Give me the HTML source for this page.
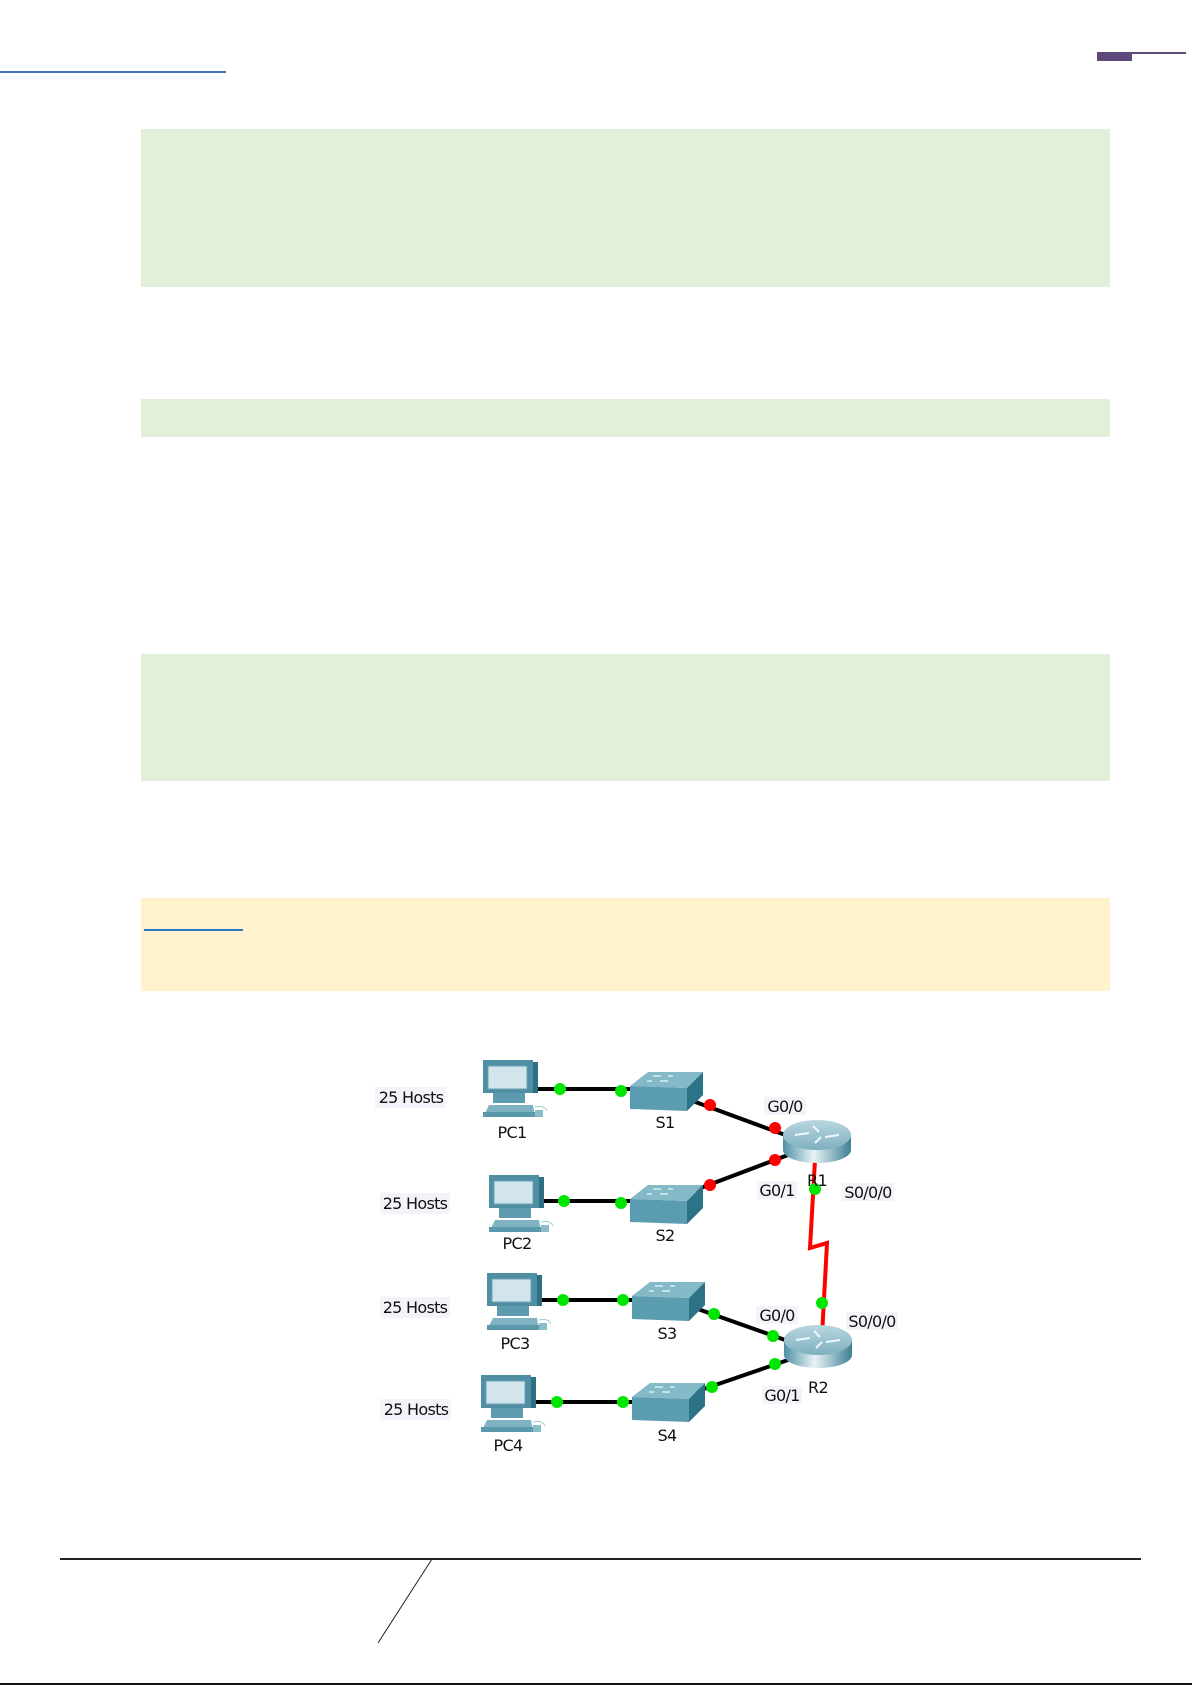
<!DOCTYPE html>
<html><head><meta charset="utf-8"><style>
html,body{margin:0;padding:0;background:#fff;}
body{width:1192px;height:1685px;position:relative;overflow:hidden;font-family:"Liberation Sans",sans-serif;}
.b{position:absolute;}
</style></head><body>
<div class="b" style="left:0;top:71px;width:226px;height:2px;background:#4472c4"></div>
<div class="b" style="left:1097px;top:52px;width:35px;height:9px;background:#5f497a"></div>
<div class="b" style="left:1132px;top:52px;width:54px;height:2px;background:#5f497a"></div>
<div class="b" style="left:141px;top:129px;width:969px;height:158px;background:#e2efd9"></div>
<div class="b" style="left:141px;top:399px;width:969px;height:38px;background:#e2efd9"></div>
<div class="b" style="left:141px;top:654px;width:969px;height:127px;background:#e2efd9"></div>
<div class="b" style="left:141px;top:898px;width:969px;height:93px;background:#fff2cc"></div>
<div class="b" style="left:144px;top:929px;width:99px;height:2px;background:#2e75c6"></div>
<svg class="b" style="left:0;top:0" width="1192" height="1685" viewBox="0 0 1192 1685">
<defs>
<linearGradient id="rg" x1="0" x2="1" y1="0" y2="0">
<stop offset="0" stop-color="#4f8fa3"/><stop offset="0.45" stop-color="#e8f3f6"/><stop offset="1" stop-color="#3f7f93"/></linearGradient>
<linearGradient id="rt" x1="0" x2="0" y1="0" y2="1">
<stop offset="0" stop-color="#b9d7e0"/><stop offset="1" stop-color="#7fb0bf"/></linearGradient>
<g id="pc">
<rect x="0" y="0" width="50" height="33" fill="#4f8ea3"/>
<rect x="50" y="2" width="5" height="31" fill="#2f6f84"/>
<rect x="5" y="6" width="39" height="23" fill="#d3e5ec" stroke="#6aa3b5"/>
<rect x="10" y="33" width="32" height="10" fill="#5f9bb0"/>
<polygon points="0,57 6,45 50,45 52,57" fill="#7fb3c3"/>
<rect x="0" y="52" width="52" height="5" fill="#5a98ac"/>
<path d="M52 47 q10 -2 12 4" stroke="#9cc" fill="none"/>
<rect x="52" y="50" width="8" height="7" fill="#8bbccb"/>
</g>
<g id="sw">
<polygon points="0,14 18,0 73,0 57,16" fill="#84b9c8"/>
<polygon points="0,14 57,16 57,39 0,37" fill="#5b9db0"/>
<polygon points="57,16 73,0 73,23 57,39" fill="#2d7388"/>
<g stroke="#d8eef3" stroke-width="1.5"><line x1="17" y1="9" x2="22" y2="9"/><line x1="38" y1="4" x2="43" y2="4"/><line x1="30" y1="9" x2="38" y2="9"/><line x1="23" y1="4" x2="31" y2="4"/></g>
</g>
<g id="rt1">
<path d="M0 15 v15 a34 13 0 0 0 68 0 v-15 z" fill="url(#rg)"/>
<ellipse cx="34" cy="15" rx="34" ry="15" fill="url(#rt)"/>
<g stroke="#eef7fa" stroke-width="2" fill="none"><path d="M12 15 l14 -2"/><path d="M42 17 l14 -2"/><path d="M30 6 l6 6"/><path d="M32 23 l6 -6"/></g>
</g>
</defs>
<g stroke="#000" stroke-width="4" fill="none">
<line x1="536" y1="1089" x2="632" y2="1089"/>
<line x1="540" y1="1201" x2="632" y2="1201"/>
<line x1="540" y1="1300" x2="632" y2="1300"/>
<line x1="534" y1="1402" x2="632" y2="1402"/>
<line x1="690" y1="1100" x2="788" y2="1136"/>
<line x1="690" y1="1192" x2="788" y2="1155"/>
<line x1="695" y1="1308" x2="788" y2="1341"/>
<line x1="695" y1="1392" x2="788" y2="1360"/>
</g>
<polyline points="815,1160 810,1248 827,1243 822,1336" stroke="#f00" stroke-width="4" fill="none"/>
<use href="#pc" x="483" y="1060"/>
<use href="#pc" x="489" y="1175"/>
<use href="#pc" x="487" y="1273"/>
<use href="#pc" x="481" y="1375"/>
<use href="#sw" x="630" y="1072"/>
<use href="#sw" x="630" y="1185"/>
<use href="#sw" x="632" y="1282"/>
<use href="#sw" x="632" y="1383"/>
<use href="#rt1" x="783" y="1120"/>
<use href="#rt1" x="784" y="1325"/>
<g fill="#00e600">
<circle cx="560" cy="1089" r="6"/><circle cx="621" cy="1091" r="6"/>
<circle cx="564" cy="1201" r="6"/><circle cx="621" cy="1203" r="6"/>
<circle cx="563" cy="1300" r="6"/><circle cx="623" cy="1300" r="6"/>
<circle cx="557" cy="1402" r="6"/><circle cx="623" cy="1402" r="6"/>
<circle cx="714" cy="1314" r="6"/><circle cx="773" cy="1336" r="6"/>
<circle cx="712" cy="1387" r="6"/><circle cx="775" cy="1364" r="6"/>
<circle cx="815" cy="1189" r="6"/><circle cx="822" cy="1303" r="6"/>
</g>
<g fill="#f00">
<circle cx="710" cy="1105" r="6"/><circle cx="775" cy="1128" r="6"/>
<circle cx="775" cy="1160" r="6"/><circle cx="710" cy="1185" r="6"/>
</g>
<g fill="#f3f3fa">
<rect x="375" y="1087" width="70" height="21"/><rect x="380" y="1193" width="70" height="21"/>
<rect x="380" y="1297" width="70" height="21"/><rect x="380" y="1399" width="71" height="21"/>
<rect x="764" y="1097" width="42" height="18"/><rect x="757" y="1181" width="40" height="18"/>
<rect x="842" y="1183" width="52" height="18"/><rect x="756" y="1306" width="42" height="18"/>
<rect x="846" y="1312" width="52" height="18"/><rect x="762" y="1386" width="40" height="18"/>
</g>
<g font-family="DejaVu Sans, sans-serif" font-size="16" fill="#111" text-anchor="middle" letter-spacing="-0.7">
<text x="411" y="1103">25 Hosts</text><text x="415" y="1209">25 Hosts</text>
<text x="415" y="1313">25 Hosts</text><text x="416" y="1415">25 Hosts</text>
<text x="512" y="1138">PC1</text><text x="517" y="1249">PC2</text>
<text x="515" y="1349">PC3</text><text x="508" y="1451">PC4</text>
<text x="665" y="1128">S1</text><text x="665" y="1241">S2</text>
<text x="667" y="1339">S3</text><text x="667" y="1441">S4</text>
<text x="785" y="1112">G0/0</text><text x="777" y="1196">G0/1</text>
<text x="817" y="1186">R1</text><text x="868" y="1198">S0/0/0</text>
<text x="777" y="1321">G0/0</text><text x="872" y="1327">S0/0/0</text>
<text x="818" y="1393">R2</text><text x="782" y="1401">G0/1</text>
</g>
<line x1="60" y1="1559" x2="1141" y2="1559" stroke="#222" stroke-width="2"/>
<line x1="432" y1="1559" x2="378" y2="1643" stroke="#222" stroke-width="1"/>
<line x1="0" y1="1684" x2="1192" y2="1684" stroke="#111" stroke-width="2"/>
</svg>
</body></html>
